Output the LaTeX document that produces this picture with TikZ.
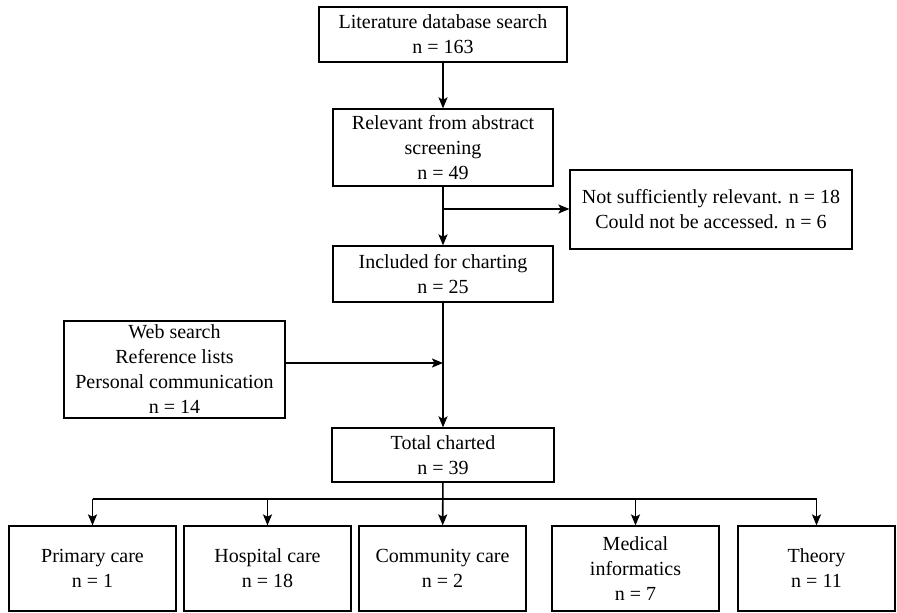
\documentclass[tikz,border=0pt]{standalone}
\usepackage{fontspec}
\setmainfont{Liberation Serif}
\usepackage{tikz}
\usetikzlibrary{calc}
\usetikzlibrary{arrows.meta}
\tikzset{%
  myedge/.style={->, line width=0.8pt, >={Stealth[length=5.5pt, width=4.5pt, inset=1.2pt]}},
  myline/.style={line width=0.8pt},
  mybox/.style={rectangle, draw=black, line width=0.6pt, align=center, inner sep=0pt,
    font=\fontsize{10}{12.5}\selectfont}
}

\begin{document}
\begin{tikzpicture}[x=0.5pt, y=-0.5pt]
  \useasboundingbox (0,0) rectangle (897,613);

\node (search) [mybox, minimum width=124pt, minimum height=27.5pt] at (443, 34.5)
  {Literature database search\\n = 163};
\node (relevant) [mybox, minimum width=110pt, minimum height=38.5pt] at (443, 147.5)
  {Relevant from abstract\\screening\\n = 49};
\node (excluded) [mybox, minimum width=141pt, minimum height=39.5pt] at (711, 209.5)
  {Not sufficiently relevant. n = 18\\Could not be accessed. n = 6};
\node (charting) [mybox, minimum width=110pt, minimum height=28pt] at (443, 274)
  {Included for charting\\n = 25};
\node (other) [mybox, minimum width=110.5pt, minimum height=48.5pt] at (174.5, 369.5)
  {Web search\\Reference lists\\Personal communication\\n = 14};
\node (total) [mybox, minimum width=111pt, minimum height=27pt] at (443, 455)
  {Total charted\\n = 39};

\node (primary) [mybox, minimum width=83.5pt, minimum height=42.5pt] at (92.5, 568.5)
  {Primary care\\n = 1};
\node (hospital) [mybox, minimum width=83.5pt, minimum height=42.5pt] at (267.5, 568.5)
  {Hospital care\\n = 18};
\node (community) [mybox, minimum width=83.5pt, minimum height=42.5pt] at (442.5, 568.5)
  {Community care\\n = 2};
\node (medical) [mybox, minimum width=83.5pt, minimum height=42.5pt] at (635.5, 568.5)
  {Medical\\informatics\\n = 7};
\node (theory) [mybox, minimum width=78.5pt, minimum height=42.5pt] at (816.5, 568.5)
  {Theory\\n = 11};

\coordinate (split) at (443, 209);
\coordinate (join) at (443, 363);
\coordinate (fork) at (443, 499);

% main line
\draw [myedge] (search) -- (relevant);
\draw [myedge] (relevant) -- (charting);
\draw [myedge] (charting) -- (total);
\draw [myedge] (split) -- (excluded.west |- split);
\draw [myedge] (other.east |- join) -- (join);

% categories
\draw [myline] (primary.north |- fork) -- (theory.north |- fork);
\draw [myedge] (total) -- (community);
\foreach \b in {primary, hospital, medical, theory} {
  \draw [myedge] (\b.north |- fork) -- (\b.north);
}
\end{tikzpicture}
\end{document}
